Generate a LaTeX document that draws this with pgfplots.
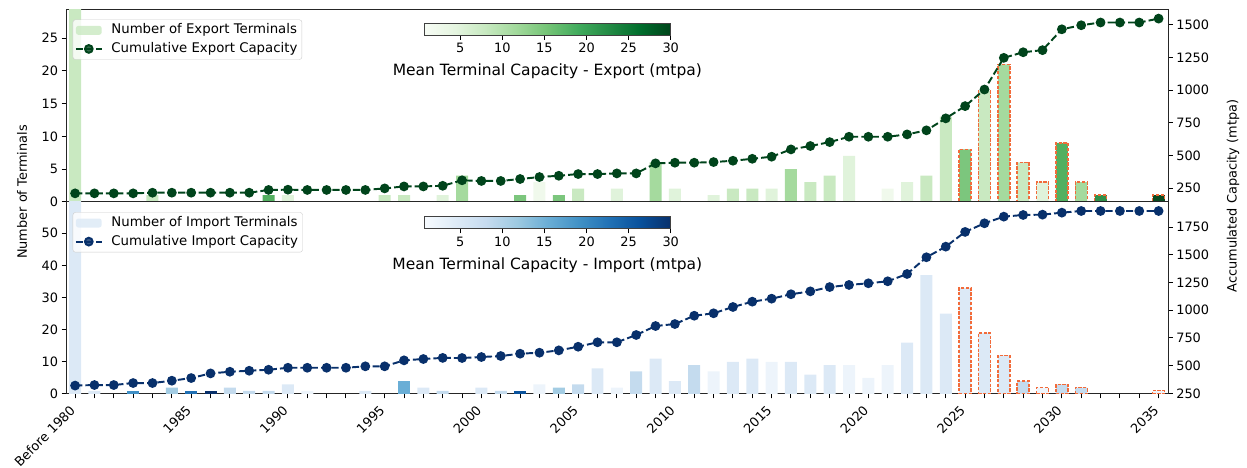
\documentclass[border=0pt]{standalone}
\usepackage{pgfplots}
\pgfplotsset{compat=1.18}
\usepackage{fontspec}
\setmainfont{DejaVu Sans}

% bar colours (export)
\definecolor{G0}{HTML}{F0F9EC}
\definecolor{G1}{HTML}{E0F3DB}
\definecolor{G2}{HTML}{C9E9C1}
\definecolor{G3}{HTML}{A5DA9E}
\definecolor{G4}{HTML}{7CC67D}
\definecolor{G5}{HTML}{52B060}
\definecolor{G6}{HTML}{2F8F48}
\definecolor{G8}{HTML}{0A4A1F}
% bar colours (import)
\definecolor{B0}{HTML}{EDF4FB}
\definecolor{B1}{HTML}{DCE9F6}
\definecolor{B2}{HTML}{C4DBEE}
\definecolor{B3}{HTML}{A3CCE3}
\definecolor{B4}{HTML}{6AAED6}
\definecolor{B5}{HTML}{3F8FC5}
\definecolor{B6}{HTML}{2070B4}
\definecolor{B7}{HTML}{0B539D}
\definecolor{B8}{HTML}{08306B}
% colormap stops
\definecolor{gc0}{HTML}{F7FCF5}\definecolor{gc1}{HTML}{E5F5E0}\definecolor{gc2}{HTML}{C7E9C0}
\definecolor{gc3}{HTML}{A1D99B}\definecolor{gc4}{HTML}{74C476}\definecolor{gc5}{HTML}{41AB5D}
\definecolor{gc6}{HTML}{238B45}\definecolor{gc7}{HTML}{006D2C}\definecolor{gc8}{HTML}{00441B}
\definecolor{bc0}{HTML}{F7FBFF}\definecolor{bc1}{HTML}{DEEBF7}\definecolor{bc2}{HTML}{C6DBEF}
\definecolor{bc3}{HTML}{9ECAE1}\definecolor{bc4}{HTML}{6BAED6}\definecolor{bc5}{HTML}{4292C6}
\definecolor{bc6}{HTML}{2171B5}\definecolor{bc7}{HTML}{08519C}\definecolor{bc8}{HTML}{08306B}
\definecolor{expline}{HTML}{00441B}
\definecolor{impline}{HTML}{08306B}
\definecolor{proj}{HTML}{F26B3A}

\pgfdeclarehorizontalshading{greenscb}{100bp}{color(0bp)=(gc0); color(25bp)=(gc0); color(31.25bp)=(gc1); color(37.5bp)=(gc2); color(43.75bp)=(gc3); color(50bp)=(gc4); color(56.25bp)=(gc5); color(62.5bp)=(gc6); color(68.75bp)=(gc7); color(75bp)=(gc8); color(100bp)=(gc8)}
\pgfdeclarehorizontalshading{bluescb}{100bp}{color(0bp)=(bc0); color(25bp)=(bc0); color(31.25bp)=(bc1); color(37.5bp)=(bc2); color(43.75bp)=(bc3); color(50bp)=(bc4); color(56.25bp)=(bc5); color(62.5bp)=(bc6); color(68.75bp)=(bc7); color(75bp)=(bc8); color(100bp)=(bc8)}

\pgfplotsset{
  base/.style={
    scale only axis, width=1102.3pt,
    xmin=-0.47, xmax=56.5,
    tick align=outside, major tick length=4.5pt, minor tick length=4.5pt,
    every tick/.style={black, line width=1pt},
    every minor tick/.style={black, line width=1pt},
    axis line style={line width=1pt, black!85},
    tick label style={font=\fontsize{12.9}{15}\selectfont},
    /pgf/number format/assume math mode=true,
    /pgf/number format/1000 sep={},
    clip=true,
  },
  bars/.style={ybar, bar width=0.62, bar shift=0pt, draw=none},
  projbars/.style={ybar, bar width=0.62, bar shift=0pt, fill=none, draw=proj, line width=1.4pt, dash pattern=on 3.2pt off 1.6pt},
  cumline/.style={line width=1.94pt, dash pattern=on 7.2pt off 3.1pt, mark=*, mark size=3.87pt},
  linelegend/.style={legend image code/.code={\path[draw=none,fill=none] (0pt,0pt) -- (33pt,0pt);\draw[mark repeat=2,mark phase=2,##1] plot coordinates {(0pt,0pt) (12.9pt,0pt) (25.8pt,0pt)};}},
  leg/.style={
    legend style={at={(0.0061,0.95)}, anchor=north west, draw=black!20, fill=white, fill opacity=0.8, text opacity=1,
      rounded corners=2.5pt, font=\fontsize{13.3}{15}\selectfont, inner xsep=2pt, inner ysep=3pt, row sep=3.5pt,
      nodes={text height=9.5pt, text depth=2.6pt, inner ysep=1.5pt, inner xsep=2.5pt}},
    legend cell align=left,
  },
  cbar/.style={
    scale only axis, width=246.7pt, height=12pt, xmin=0.7, xmax=30, ymin=0, ymax=1,
    ytick=\empty, xtick={5,10,...,30}, xtick pos=bottom, tick align=outside, major tick length=4.5pt,
    every tick/.style={black, line width=1pt},
    axis line style={line width=1pt, black!75},
    tick label style={font=\fontsize{12.9}{15}\selectfont},
    /pgf/number format/assume math mode=true,
    xlabel style={font=\fontsize{15.5}{18}\selectfont, yshift=-4pt},
    axis on top,
  },
}

\begin{document}
\begin{tikzpicture}[x=1pt,y=1pt]
%================ TOP PANEL (export) ================
\begin{axis}[base, at={(66pt,266.3pt)}, anchor=south west, height=191.7pt,
  ymin=0, ymax=29.33, ytick={0,5,...,25}, ytick pos=left, xtick=\empty]
\addplot[bars, fill=G0] coordinates {(24,3) (42,2)};
\addplot[bars, fill=G1] coordinates {(11,1) (19,1) (28,2) (31,2) (33,1) (36,2) (40,7) (43,3) (50,3)};
\addplot[bars, fill=G2] coordinates {(0,30) (4,1) (16,1) (17,1) (26,2) (34,2) (35,2) (38,3) (39,4) (44,4) (45,13) (47,17) (49,6)};
\addplot[bars, fill=G3] coordinates {(20,4) (30,6) (37,5) (48,21) (52,3)};
\addplot[bars, fill=G4] coordinates {(23,1) (25,1) (46,8)};
\addplot[bars, fill=G5] coordinates {(10,1) (51,9)};
\addplot[bars, fill=G6] coordinates {(53,1)};
\addplot[bars, fill=G8] coordinates {(56,1)};
\addplot[projbars] coordinates {(46,8) (47,17) (48,21) (49,6) (50,3) (51,9) (52,3) (53,1) (56,1)};
\end{axis}
\begin{axis}[base, leg, at={(66pt,266.3pt)}, anchor=south west, height=191.7pt,
  axis x line=none, axis y line*=right,
  ymin=145, ymax=1615, ytick={250,500,...,1500}]
\addlegendimage{legend image code/.code={\path[draw=none,fill=none] (0pt,0pt) -- (33pt,0pt);\fill[G2,draw=none] (0pt,-4.5pt) rectangle (25.8pt,4.5pt);}}
\addlegendentry{Number of Export Terminals}
\addplot[cumline, linelegend, color=expline, mark options={solid, fill=expline}]
coordinates {
(0,209) (1,209) (2,209) (3,209) (4,214) (5,214) (6,214) (7,214) (8,214) (9,214)
(10,235) (11,237) (12,235) (13,235) (14,235) (15,235) (16,247) (17,262) (18,262) (19,267)
(20,309) (21,304) (22,304) (23,319) (24,334) (25,344) (26,357) (27,357) (28,362) (29,362)
(30,439) (31,444) (32,444) (33,449) (34,459) (35,474) (36,490) (37,546) (38,572) (39,602)
(40,643) (41,643) (42,643) (43,661) (44,692) (45,784) (46,878) (47,1005) (48,1248) (49,1291)
(50,1307) (51,1467) (52,1498) (53,1519) (54,1519) (55,1519) (56,1549)};
\addlegendentry{Cumulative Export Capacity}
\end{axis}
\begin{axis}[cbar, at={(424pt,432.7pt)}, anchor=south west,
  xlabel={Mean Terminal Capacity - Export (mtpa)}]
\shade[shading=greenscb] (axis cs:0.7,0) rectangle (axis cs:30,1);
\end{axis}

%================ BOTTOM PANEL (import) ================
\begin{axis}[base, at={(66pt,74pt)}, anchor=south west, height=192.3pt,
  ymin=0, ymax=59.8, ytick={0,10,...,50}, ytick pos=left,
  xtick={0,6,11,16,21,26,31,36,41,46,51,56}, minor xtick={0,...,56}, xtick pos=bottom,
  xticklabels={Before 1980,1985,1990,1995,2000,2005,2010,2015,2020,2025,2030,2035},
  xticklabel style={xshift=-6pt, yshift=-5pt, rotate=45, anchor=north east, inner sep=0.5pt, font=\fontsize{12.9}{15}\selectfont}]
\addplot[bars, fill=B0] coordinates {(12,1) (24,3) (28,2) (33,7) (36,10) (40,9) (41,5) (42,9) (50,2) (56,1)};
\addplot[bars, fill=B1] coordinates {(0,62) (1,1) (11,3) (15,1) (18,2) (21,2) (27,8) (30,11) (31,4) (34,10) (35,11) (37,10) (38,6) (39,9) (43,16) (44,37) (45,25) (46,33) (47,19) (48,12)};
\addplot[bars, fill=B2] coordinates {(8,2) (9,1) (10,1) (19,1) (22,1) (26,3) (29,7) (32,9) (49,4) (51,3) (52,2)};
\addplot[bars, fill=B3] coordinates {(5,2) (25,2)};
\addplot[bars, fill=B4] coordinates {(17,4)};
\addplot[bars, fill=B5] coordinates {(3,1)};
\addplot[bars, fill=B6] coordinates {(6,1)};
\addplot[bars, fill=B7] coordinates {(23,1)};
\addplot[bars, fill=B8] coordinates {(7,1)};
\addplot[projbars] coordinates {(46,33) (47,19) (48,12) (49,4) (50,2) (51,3) (52,2) (56,1)};
\end{axis}
\begin{axis}[base, leg, at={(66pt,74pt)}, anchor=south west, height=192.3pt,
  legend style={at={(0.0061,0.945)}},
  axis x line=none, axis y line*=right,
  ymin=244, ymax=1981, ytick={250,500,...,1750}]
\addlegendimage{legend image code/.code={\path[draw=none,fill=none] (0pt,0pt) -- (33pt,0pt);\fill[B1,draw=none] (0pt,-4.5pt) rectangle (25.8pt,4.5pt);}}
\addlegendentry{Number of Import Terminals}
\addplot[cumline, linelegend, color=impline, mark options={solid, fill=impline}]
coordinates {
(0,320) (1,325) (2,325) (3,343) (4,343) (5,364) (6,388) (7,430) (8,445) (9,454)
(10,463) (11,481) (12,481) (13,481) (14,481) (15,494) (16,494) (17,548) (18,560) (19,570)
(20,569) (21,578) (22,587) (23,608) (24,617) (25,638) (26,671) (27,711) (28,711) (29,777)
(30,858) (31,876) (32,951) (33,973) (34,1030) (35,1078) (36,1105) (37,1145) (38,1171) (39,1210)
(40,1229) (41,1244) (42,1262) (43,1328) (44,1479) (45,1575) (46,1708) (47,1786) (48,1846) (49,1861)
(50,1864) (51,1882) (52,1897) (53,1897) (54,1897) (55,1897) (56,1897)};
\addlegendentry{Cumulative Import Capacity}
\end{axis}
\begin{axis}[cbar, at={(424pt,239pt)}, anchor=south west,
  xlabel={Mean Terminal Capacity - Import (mtpa)}]
\shade[shading=bluescb] (axis cs:0.7,0) rectangle (axis cs:30,1);
\end{axis}

% shared axis labels
\node[rotate=90, font=\fontsize{12.9}{15}\selectfont] at (22pt,276pt) {Number of Terminals};
\node[rotate=90, font=\fontsize{12.9}{15}\selectfont] at (1233pt,272pt) {Accumulated Capacity (mtpa)};

\pgfresetboundingbox
\path[use as bounding box] (0,0) rectangle (1247pt,468pt);
\end{tikzpicture}
\end{document}
